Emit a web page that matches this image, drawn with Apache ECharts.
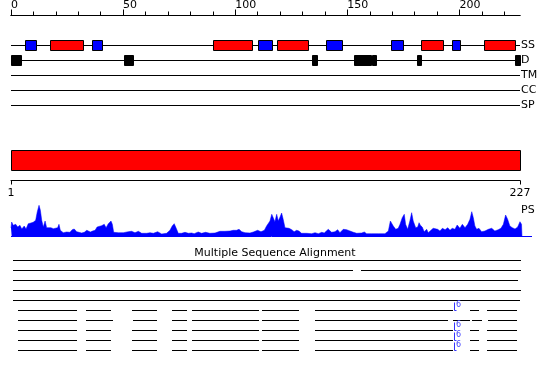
<!DOCTYPE html>
<html><head><meta charset="utf-8">
<script src="https://cdn.jsdelivr.net/npm/echarts@6/dist/echarts.min.js"></script>
<style>html,body{margin:0;padding:0;background:#fff}#c{width:550px;height:380px}</style>
</head><body><div id="c"></div>
<script>
// ---- data ----
var seqLen = 227;
var trackNames = ['SS', 'D', 'TM', 'CC', 'SP'];
var topTickValues = [0,10,20,30,40,50,60,70,80,90,100,110,120,130,140,150,160,170,180,190,200,210,220];
var topLabelValues = [0, 50, 100, 150, 200];
var rulerLabels = [1, 227];
// secondary structure: start, end, type (E = strand, H = helix)
var ssStart = [6.5, 17.5, 36.5, 90.5, 110.5, 119, 140.5, 169.5, 183, 197, 211];
var ssEnd   = [11.5, 32.5, 41, 107.5, 116.5, 132.5, 148, 175, 193, 200.5, 225];
var ssType  = ['E','H','E','H','E','H','E','E','H','E','H'];
// disorder segments
var dStart = [0, 50.5, 134.5, 153.4, 161.2, 181.4, 224.8];
var dEnd   = [4.8, 54.7, 136.8, 160.9, 162.9, 183.2, 227.3];
// PS profile
var psPos = [0,0.3,1.0,2.1,3.0,4.0,4.8,5.9,6.7,7.7,8.9,9.9,11.0,11.7,12.5,13.1,13.7,14.4,15.2,15.9,16.6,17.8,18.9,19.6,20.8,21.4,22.0,23.3,24.8,26.3,27.3,28.2,29.3,30.3,31.5,32.7,33.8,34.5,35.4,36.4,37.5,38.4,39.2,40.4,41.6,42.4,43.4,44.6,45.2,45.8,47.9,50.1,52.3,53.8,55.3,56.8,58.3,60.5,62.0,63.5,65.4,67.2,69.4,70.9,71.9,72.8,73.7,74.6,76.1,77.6,79.1,80.6,81.7,83.5,85.0,86.8,88.7,91.0,93.2,95.4,97.7,99.1,100.6,101.7,102.9,104.4,106.6,108.1,110.0,111.5,113.0,114.0,114.8,115.5,116.3,117.0,117.7,118.5,119.2,120.0,120.7,121.4,122.2,123.0,124.0,125.2,126.3,127.4,128.4,129.6,131.9,134.1,135.6,137.1,138.6,139.7,141.5,143.0,144.5,145.7,146.7,148.2,149.7,151.2,152.7,154.2,156.4,157.6,158.6,160.9,163.8,166.8,168.3,169.2,169.8,170.5,171.6,172.7,173.5,174.5,175.4,176.0,176.9,177.9,178.7,179.4,180.5,181.4,182.0,182.5,183.4,184.3,185.4,186.1,187.3,188.3,189.1,190.3,191.3,192.4,193.6,194.8,195.8,196.8,198.0,199.0,200.2,201.3,202.5,203.7,204.7,205.5,206.2,206.9,207.7,208.7,209.9,211.4,212.9,214.4,215.8,217.3,218.5,219.6,220.6,221.5,222.5,223.6,224.8,226.0,227.0,227.7,227.9];
var psVal = [8,14,10.7,11.7,9,10.7,7,10,7,12.3,13,13.7,15.7,24,30.7,25.7,15.7,9,15,8.3,9.7,8.3,7.3,5.7,8.3,11.7,5.7,3.3,4,3.7,6.3,7,4.3,3.7,3,3.7,5.7,7,4,5,5.7,9,7,10.3,11.7,8.3,12.3,15,11.7,3.7,3.3,3.3,4.3,4.7,3.3,4.7,2.7,2.7,3.3,2.7,4.3,2,2.7,5.7,10,12.3,7.7,2.7,2.7,3.7,2.7,3,2.3,4,2.7,3.7,2.7,3,4.7,4.7,5,5.7,5.7,6.7,4.3,3.3,3,4,5.7,4.3,5.7,10,8.3,15,21.7,20,14.3,21.7,15,19,23,16.7,8.3,9,7.7,6.3,4.3,5.7,5,2.7,2.7,2.3,3.3,2.3,3.7,3,6.7,3.7,4.3,6.3,3.3,6.7,6.3,5,3.7,2.7,3,4,2.3,2.3,2.3,2.3,5,15,15.7,10,6.7,7.7,11.7,18.3,21.7,11.7,6.7,15,23.3,15,8.3,9,13.3,11,9,4.3,6.7,3.3,5.7,7.7,5.7,6.7,5,7.7,6.3,8.3,5.7,7.7,6.7,11,7.7,11.7,8.3,11.7,16.7,24.3,18.3,10,6.7,7.7,4.3,5,6.7,7.7,5,6.3,7.7,11.7,21,16.7,10,8.3,7,9,14.3,11.7,0];
// multiple sequence alignment rows: [start, end] segments
var msaRow1 = [[1,227.3]];
var msaRow2 = [[1,152.4],[156,227.3]];
var msaRow3 = [[1,226]];
var msaRow4 = [[1,227.3]];
var msaRow5 = [[1,227]];
var msaRow6 = [[3.1,29.4],[33.4,44.6],[54,65.1],[71.8,78.5],[80.7,110.6],[111.8,128.4],[135.6,197.1],[204.7,208.7],[212.3,225.7]];
var msaRow7 = [[3.1,29.4],[33.4,45.5],[54.4,65.1],[71.8,78.5],[80.7,110.6],[111.8,128.4],[135.6,194.9],[197.1,204.7],[205.6,210.1],[212.7,225.7]];
var msaRow8 = msaRow6, msaRow9 = msaRow6, msaRow10 = msaRow6;
var msaMarkerPos = 197.7;
var msaMarkerRows = [5, 7, 8, 9];
var msaMarkerText = '6';

// ---- build ----
var msaRows = [msaRow1,msaRow2,msaRow3,msaRow4,msaRow5,msaRow6,msaRow7,msaRow8,msaRow9,msaRow10];
var trackLines = trackNames.map(function(n,i){return [0, seqLen, i];});
var ssData = ssStart.map(function(s,i){return [s, ssEnd[i], 0, ssType[i]==='H'?1:0];});
var dData = dStart.map(function(s,i){return [s, dEnd[i], 1];});
var psData = psPos.map(function(p,i){return [p, psVal[i]];});
var msaData = [];
msaRows.forEach(function(r,ri){ r.forEach(function(seg){ msaData.push([seg[0], seg[1], ri]); }); });
var markerData = msaMarkerRows.map(function(r){return [msaMarkerPos, r];});
var rowCats = msaRows.map(function(r,i){return 'r'+(i+1);});

function crisp(v){ return Math.floor(v) + 0.5; }
function lineRender(params, api){
  var s = api.coord([api.value(0), api.value(2)]);
  var e = api.coord([api.value(1), api.value(2)]);
  var y = crisp(s[1]);
  return {type:'line', shape:{x1:Math.round(s[0]), y1:y, x2:Math.round(e[0]), y2:y}, style:{stroke:'#000', lineWidth:1}};
}
function boxRender(fillFn){
  return function(params, api){
    var s = api.coord([api.value(0), api.value(2)]);
    var e = api.coord([api.value(1), api.value(2)]);
    var h = 10;
    var x0 = crisp(s[0]), x1 = crisp(e[0]);
    return {type:'rect', shape:{x:x0, y:crisp(s[1]-h/2), width:Math.max(1,x1-x0), height:h},
      style:{fill:fillFn(api), stroke:'#000', lineWidth:1}};
  };
}

var chart = echarts.init(document.getElementById('c'), null, {renderer:'canvas'});
var FONT = 'DejaVu Sans';
chart.setOption({
  animation:false,
  backgroundColor:'#fff',
  textStyle:{fontFamily:FONT},
  title:{text:'Multiple Sequence Alignment', left:'center', top:243,
    textStyle:{fontSize:11, fontWeight:'normal', color:'#000', fontFamily:FONT}},
  grid:[
    {left:11, width:509, top:37.5, height:75},
    {left:11, width:509, top:150, height:20},
    {left:11, width:511.2, top:205, height:31},
    {left:11, width:509, top:255.7, height:100}
  ],
  xAxis:[
    {gridIndex:0, type:'value', min:0, max:seqLen, position:'top', offset:22.5,
      axisLine:{show:true, onZero:false, lineStyle:{color:'#000', width:1}}, splitLine:{show:false},
      axisTick:{show:true, customValues:topTickValues, length:3.5, lineStyle:{color:'#000'}},
      axisLabel:{show:false}},
    {gridIndex:0, type:'value', min:0, max:seqLen, position:'top', offset:22.5,
      axisLine:{show:true, onZero:false, lineStyle:{color:'#000', width:1}}, splitLine:{show:false},
      axisTick:{show:true, customValues:topLabelValues, length:5.5, lineStyle:{color:'#000'}},
      axisLabel:{customValues:topLabelValues, align:'left', margin:4, fontSize:11, color:'#000', fontFamily:FONT}},
    {gridIndex:1, type:'value', min:1, max:seqLen, position:'bottom', offset:10.5,
      axisLine:{show:true, onZero:false, lineStyle:{color:'#000', width:1}}, splitLine:{show:false},
      axisTick:{show:true, customValues:rulerLabels, length:4, lineStyle:{color:'#000'}},
      axisLabel:{customValues:rulerLabels, margin:7, fontSize:11, color:'#000', fontFamily:FONT}},
    {gridIndex:2, type:'value', min:0, max:228, show:false},
    {gridIndex:3, type:'value', min:0, max:seqLen, show:false}
  ],
  yAxis:[
    {gridIndex:0, type:'category', data:trackNames, inverse:true, position:'right',
      axisLine:{show:false}, axisTick:{show:false}, splitLine:{show:false},
      axisLabel:{margin:1, fontSize:11, color:'#000', fontFamily:FONT, align:'left'}},
    {gridIndex:1, type:'category', data:['seq'], show:false},
    {gridIndex:2, type:'value', min:0, max:31, show:false},
    {gridIndex:3, type:'category', data:rowCats, inverse:true, show:false}
  ],
  graphic:[
    {type:'line', shape:{x1:11, y1:236.5, x2:532, y2:236.5}, style:{stroke:'#0000ff', lineWidth:1}, z:100},
    {type:'text', x:521, y:205, style:{text:'PS', fontSize:11, fontFamily:FONT, fill:'#000'}}
  ],
  series:[
    {type:'custom', xAxisIndex:0, yAxisIndex:0, data:trackLines, renderItem:lineRender, z:1},
    {type:'custom', xAxisIndex:0, yAxisIndex:0, data:ssData, z:3,
      renderItem:boxRender(function(api){return api.value(3)===1?'#ff0000':'#0000ff';})},
    {type:'custom', xAxisIndex:0, yAxisIndex:0, data:dData, z:3,
      renderItem:boxRender(function(){return '#000';})},
    {type:'custom', xAxisIndex:2, yAxisIndex:1, data:[[1, seqLen, 0]], z:3,
      renderItem:function(params, api){
        var s = api.coord([api.value(0), 0]);
        var e = api.coord([api.value(1), 0]);
        var h = api.size([0,1])[1];
        return {type:'rect', shape:{x:crisp(s[0]), y:crisp(s[1]-h/2), width:Math.round(e[0]-s[0]), height:Math.round(h)},
          style:{fill:'#ff0000', stroke:'#000', lineWidth:1}};
      }},
    {type:'line', xAxisIndex:3, yAxisIndex:2, data:psData, showSymbol:false, symbol:'none',
      lineStyle:{color:'#0000ff', width:0.5}, areaStyle:{color:'#0000ff', opacity:1}, itemStyle:{color:'#0000ff'}},
    {type:'custom', xAxisIndex:4, yAxisIndex:3, data:msaData, renderItem:lineRender},
    {type:'custom', xAxisIndex:4, yAxisIndex:3, data:markerData, z:5,
      renderItem:function(params, api){
        var p = api.coord([api.value(0), api.value(1)]);
        var x = crisp(p[0]), y = crisp(p[1]);
        return {type:'group', children:[
          {type:'line', shape:{x1:x, y1:y-8, x2:x, y2:y}, style:{stroke:'#3333ff', lineWidth:1}},
          {type:'line', shape:{x1:x, y1:y, x2:x+2, y2:y}, style:{stroke:'#3333ff', lineWidth:1}},
          {type:'text', x:x+1.5, y:y-10, style:{text:msaMarkerText, fontSize:8, fontFamily:FONT, fill:'#4444ff'}}
        ]};
      }}
  ]
});
</script></body></html>
